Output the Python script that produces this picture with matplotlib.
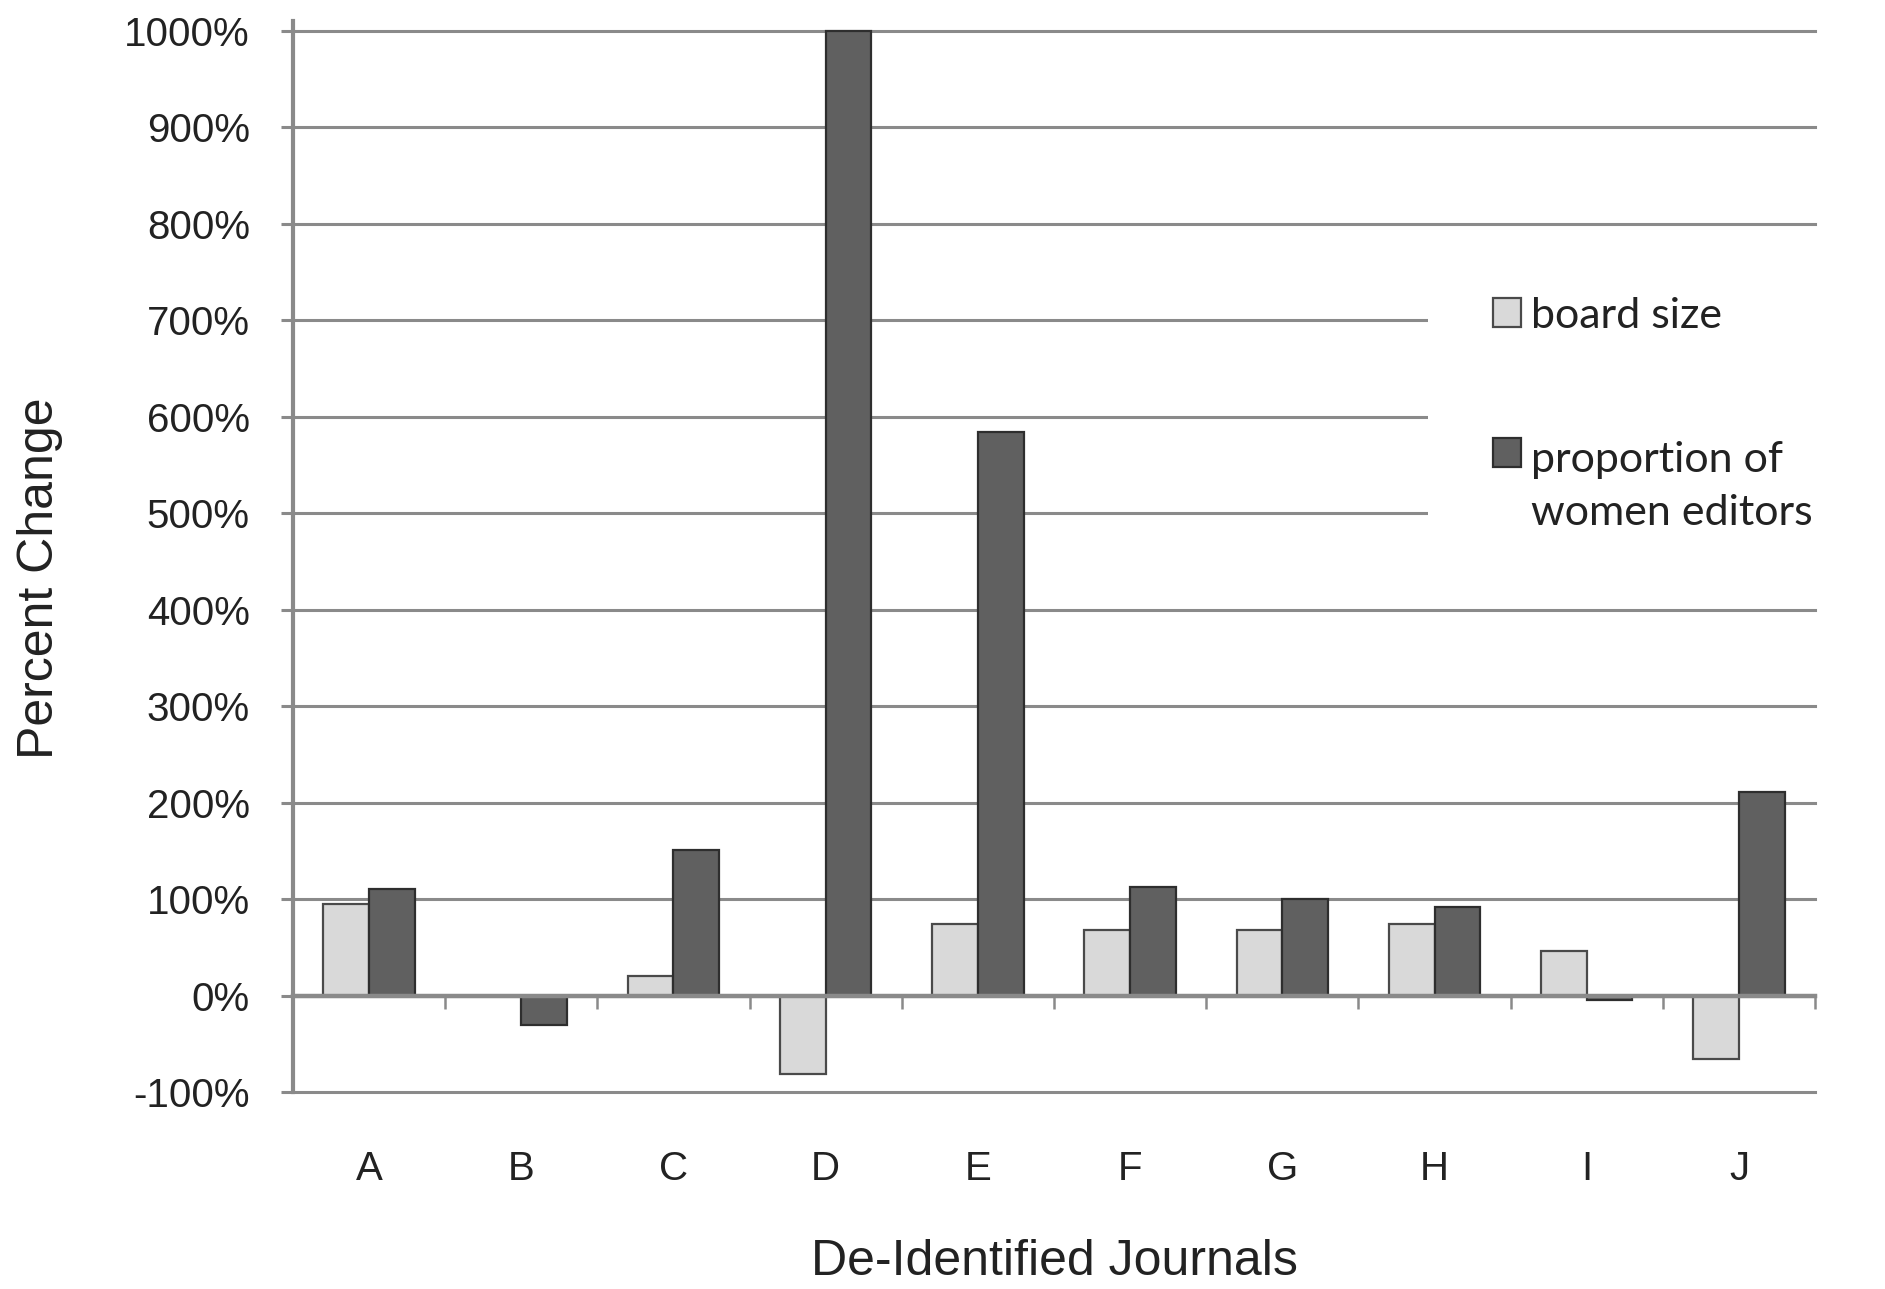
import matplotlib
matplotlib.use("Agg")
import matplotlib.pyplot as plt
import numpy as np
from matplotlib.patches import Patch

journals = ["A", "B", "C", "D", "E", "F", "G", "H", "I", "J"]
board_size = [95, 0, 20, -81, 74, 68, 68, 74, 46, -66]
women_prop = [111, -31, 151, 1000, 584, 113, 100, 92, -5, 211]
yticks = [-100, 0, 100, 200, 300, 400, 500, 600, 700, 800, 900, 1000]

plt.rcParams['font.family'] = ['Liberation Sans', 'DejaVu Sans']

fig = plt.figure(figsize=(18.85, 12.89), dpi=100)
ax = fig.add_axes([0.1554, 0.1528, 0.8075, 0.8306])

x = np.arange(len(journals))
w = 0.30
gray = '#8a8a8a'
ax.bar(x - w / 2, board_size, w, color='#d9d9d9', edgecolor='#4a4a4a', linewidth=1.6, zorder=3, label='board size')
ax.bar(x + w / 2, women_prop, w, color='#606060', edgecolor='#2e2e2e', linewidth=1.6, zorder=3,
       label='proportion of\nwomen editors')

ax.set_xlim(-0.5, 9.5)
ax.set_ylim(-100, 1010)
ax.set_yticks(yticks)
ax.set_yticklabels([f"{v}%" for v in yticks])
ax.yaxis.grid(True, color=gray, linewidth=2.2, zorder=0)
ax.set_axisbelow(True)
for gl in ax.get_ygridlines():
    gl.set_clip_on(False)

for s in ['top', 'right']:
    ax.spines[s].set_visible(False)
ax.spines['left'].set_color(gray)
ax.spines['left'].set_linewidth(3)
ax.spines['bottom'].set_position(('data', 0))
ax.spines['bottom'].set_color(gray)
ax.spines['bottom'].set_linewidth(3.2)
ax.spines['bottom'].set_zorder(4)

ax.set_xticks(x + 0.5)
ax.set_xticklabels([])
ax.set_xticks(x, minor=True)
ax.set_xticklabels(journals, minor=True)
ax.tick_params(axis='x', which='major', direction='out', length=9, width=1.8, color=gray)
ax.tick_params(axis='x', which='minor', length=0, pad=111, labelsize=29, labelcolor='#222222')
ax.tick_params(axis='y', direction='out', length=9, width=2.2, color=gray, pad=22,
               labelsize=29, labelcolor='#222222')

ax.set_ylabel("Percent Change", fontsize=36, color='#222222')
ax.yaxis.set_label_coords(-0.151, 0.480)
ax.set_xlabel("De-Identified Journals", fontsize=36, color='#222222', labelpad=37)

fs = 31
handles = [Patch(facecolor='#d9d9d9', edgecolor='#4a4a4a', linewidth=1.6),
           Patch(facecolor='#606060', edgecolor='#2e2e2e', linewidth=1.6)]
x0 = 1428 / 1885
leg = ax.legend(handles, ['board size', 'proportion of\nwomen editors'],
                loc='upper left', mode='expand', borderaxespad=0,
                bbox_to_anchor=(x0, 1 - 245 / 1289, 1822 / 1885 - x0, 0.01),
                bbox_transform=fig.transFigure, frameon=True, fancybox=False,
                facecolor='white', edgecolor='none', framealpha=1,
                prop={'family': ['Lato', 'DejaVu Sans'], 'size': fs},
                handlelength=0.65, handleheight=0.65, handletextpad=0.25,
                labelspacing=2.46, borderpad=1.5)
leg.set_zorder(5)
for t in leg.get_texts():
    t.set_color('#222222')
    t.set_linespacing(1.49)
p2 = leg.get_patches()[1]
p2.set_y(p2.get_y() + 0.79 * fs)

fig.savefig("out.png", dpi=100)
